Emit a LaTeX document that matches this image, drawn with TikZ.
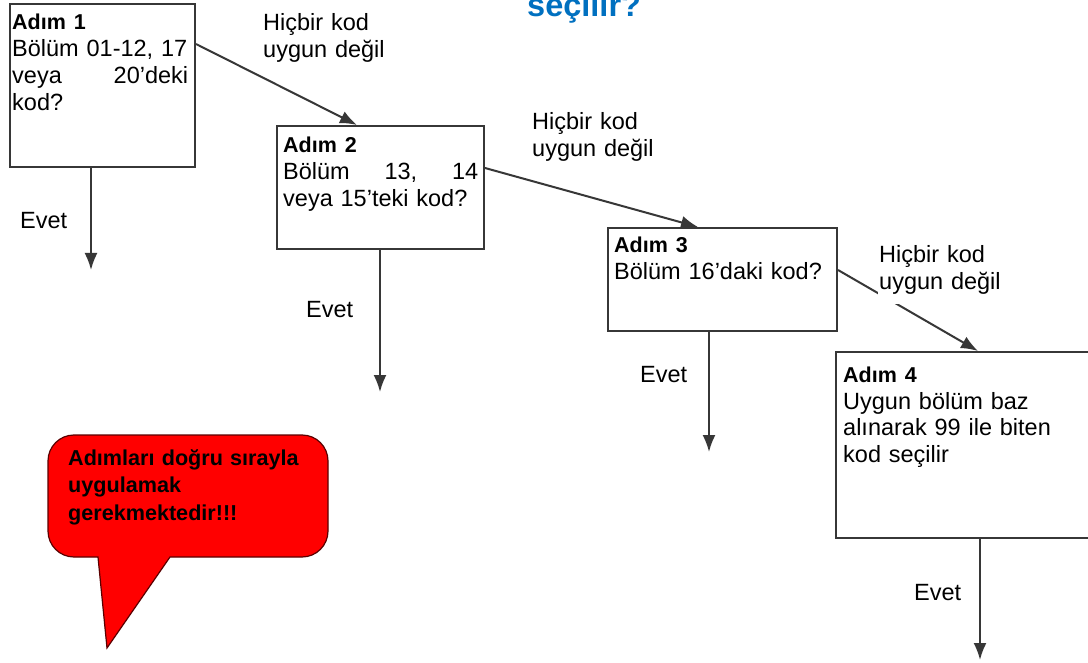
\documentclass[tikz,border=0pt]{standalone}
\usepackage{fontspec}
\setmainfont{Liberation Sans}
\usetikzlibrary{arrows.meta}
\definecolor{linegray}{RGB}{55,55,55}
\definecolor{titleblue}{RGB}{0,112,192}
\definecolor{bubblered}{RGB}{255,0,0}
\definecolor{bubbleedge}{RGB}{90,0,0}
\newcommand{\hd}[1]{{\fontsize{21.5}{27}\selectfont\bfseries #1}}
\tikzset{
  stepbox/.style={draw=linegray, line width=2pt, fill=white, inner sep=0pt, anchor=north west},
  boxtext/.style={anchor=base west, inner sep=0pt, align=left, font=\fontsize{23.5}{27}\selectfont},
  flow/.style={draw=linegray, line width=2pt, -{Latex[length=17pt,width=13pt]}},
  lbl/.style={anchor=base west, inner xsep=1pt, inner ysep=5pt, align=left, text width=122pt, fill=white, font=\fontsize{23.5}{27}\selectfont},
  evet/.style={anchor=base west, inner sep=0pt, font=\fontsize{23.5}{27}\selectfont}
}
\begin{document}
\begin{tikzpicture}[x=1pt, y=-1pt]
\useasboundingbox (0,0) rectangle (1088,663);
\clip (0,0) rectangle (1088,663);
\fill[white] (0,0) rectangle (1088,663);

% title fragment
\node[anchor=base west, inner sep=0pt, text=titleblue, font=\fontsize{32.5}{32}\selectfont\bfseries] (title) at (527,17) {seçilir?};

% boxes
\node[stepbox, minimum width=185pt, minimum height=163pt] (b1) at (9,3) {};
\node[stepbox, minimum width=207pt, minimum height=123pt] (b2) at (276,125) {};
\node[stepbox, minimum width=229pt, minimum height=103pt] (b3) at (607,227) {};
\node[stepbox, minimum width=253pt, minimum height=186pt] (b4) at (835,351) {};

% box texts
\node[boxtext, text width=176pt] (t1) at (12,30) {\hd{Adım 1}\\Bölüm 01-12, 17\\veya\hfill 20’deki\\kod?};
\node[boxtext, text width=195pt] (t2) at (283,153) {\hd{Adım 2}\\Bölüm\hfill 13,\hfill 14\\veya 15’teki kod?};
\node[boxtext, text width=220pt] (t3) at (614,253) {\hd{Adım 3}\\Bölüm 16’daki kod?};
\node[boxtext, text width=235pt] (t4) at (843,382) {\hd{Adım 4}\\Uygun bölüm baz\\alınarak 99 ile biten\\kod seçilir};

% free ends of the "Evet" arrows
\coordinate (e1) at (91,270);
\coordinate (e2) at (380,392);
\coordinate (e3) at (709,452);
\coordinate (e4) at (980,660);

% connectors
\draw[flow] ([yshift=-41pt]b1.north east) -- ([xshift=81pt]b2.north west);
\draw[flow] ([yshift=-43pt]b2.north east) -- ([xshift=91pt]b3.north west);
\draw[flow] ([yshift=-43pt]b3.north east) -- ([xshift=143pt]b4.north west);
\draw[flow] (b1.south -| e1) -- (e1);
\draw[flow] (b2.south -| e2) -- (e2);
\draw[flow] (b3.south -| e3) -- (e3);
\draw[flow] (b4.south -| e4) -- (e4);

% labels
\node[lbl] (l1) at (262,31) {Hiçbir kod\\uygun değil};
\node[lbl] (l2) at (531,130) {Hiçbir kod\\uygun değil};
\node[lbl, inner ysep=9pt] (l3) at (878,263) {Hiçbir kod\\uygun değil};
\node[evet] (v1) at (20,229) {Evet};
\node[evet] (v2) at (306,318) {Evet};
\node[evet] (v3) at (640,382) {Evet};
\node[evet] (v4) at (914,600) {Evet};

% callout
\draw[fill=bubblered, draw=bubbleedge, line width=1.2pt]
  (170,557) [rounded corners=26pt] -- (328,557) -- (328,435) -- (48,435) -- (48,557) [sharp corners] -- (98,557) -- (107,648) -- cycle;
\node[anchor=base west, inner sep=0pt, align=left, text width=255pt, font=\fontsize{21.6}{27.5}\selectfont\bfseries] (note) at (68,465) {Adımları doğru sırayla\\uygulamak\\gerekmektedir!!!};
\end{tikzpicture}
\end{document}
